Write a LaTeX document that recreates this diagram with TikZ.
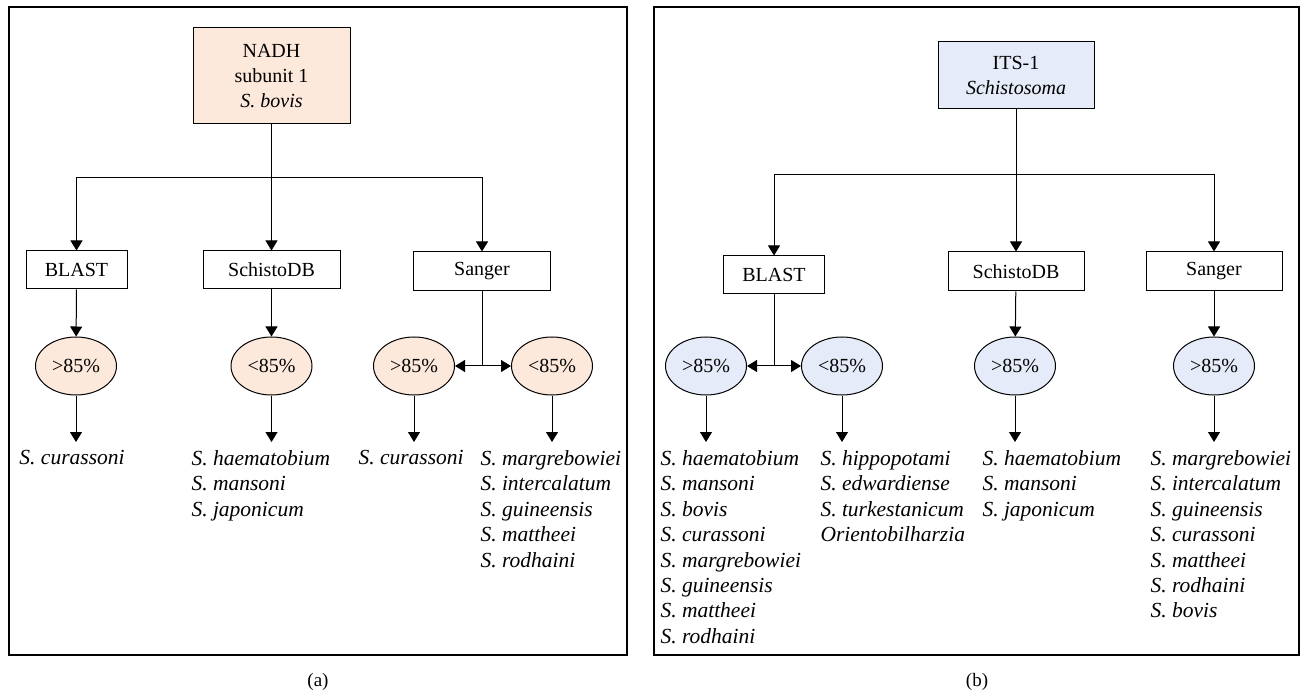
\documentclass[tikz,border=0pt]{standalone}
\usepackage{fontspec}
\setmainfont{Liberation Serif}
\usetikzlibrary{shapes.geometric,arrows.meta}

\definecolor{peach}{RGB}{252,233,219}
\definecolor{paleblue}{RGB}{229,235,248}

\tikzset{
  box/.style={draw, rectangle, inner sep=0pt, align=center, font=\fontsize{20}{25}\selectfont},
  oval/.style={draw, ellipse, minimum width=81pt, minimum height=58pt, inner sep=0pt, font=\fontsize{20}{25}\selectfont},
  taxa/.style={anchor=north west, align=left, inner xsep=0pt, inner ysep=8pt, font=\fontsize{21.5}{25.4}\selectfont\itshape},
  arr/.style={-{Triangle[length=10pt,width=12pt]}},
  twoarr/.style={{Triangle[length=10pt,width=12pt]}-{Triangle[length=10pt,width=12pt]}}
}

\begin{document}
\begin{tikzpicture}[x=1pt, y=-1pt, line width=1pt]

  % Fix the canvas
  \useasboundingbox (0,0) rectangle (1306,692);

  % Panel frames
  \draw[line width=1.2pt] (9,7) rectangle (627,655);
  \draw[line width=1.2pt] (654,7) rectangle (1299,655);

  % Captions
  \node[font=\fontsize{19}{22}\selectfont] (capa) at (318,682) {(a)};
  \node[font=\fontsize{19}{22}\selectfont] (capb) at (977,682) {(b)};

  % ---------- Panel (a) ----------
  % Root box
  \node[box, fill=peach, minimum width=157pt, minimum height=96pt] (nadh) at (271.5,76)
    {NADH\\subunit 1\\\textit{S. bovis}};

  % Height of the branching bar
  \coordinate (abar) at (271.5,178);

  % Methods
  \node[box, minimum width=101pt, minimum height=38pt] (ablast) at (76.5,270) {BLAST};
  \node[box, minimum width=137pt, minimum height=38pt] (asdb) at (271.5,270) {SchistoDB};
  \node[box, minimum width=137pt, minimum height=39pt] (asanger) at (482,271.5) {Sanger};

  % Identity ovals
  \node[oval, fill=peach] (a1) at (76,366) {>85\%};
  \node[oval, fill=peach] (a2) at (271.5,366) {<85\%};
  \node[oval, fill=peach] (a3) at (414,366) {>85\%};
  \node[oval, fill=peach] (a4) at (552,366) {<85\%};

  % Species lists
  \node[taxa] (la1) at (19,442) {S. curassoni};
  \node[taxa] (la2) at (191,442) {S. haematobium\\S. mansoni\\S. japonicum};
  \node[taxa] (la3) at (358,442) {S. curassoni};
  \node[taxa] (la4) at (480,442) {S. margrebowiei\\S. intercalatum\\S. guineensis\\S. mattheei\\S. rodhaini};

  % Connectors
  \draw[arr] (nadh.south) -- (nadh.south |- abar) -| (ablast.north);
  \draw[arr] (nadh.south) -- (asdb.north);
  \draw[arr] (nadh.south |- abar) -| (asanger.north);
  \draw[arr] (ablast) -- (a1);
  \draw[arr] (asdb) -- (a2);
  \draw (asanger.south) -- (asanger.south |- a3);
  \draw[twoarr] (a3) -- (a4);
  \draw[arr] (a1) -- (a1 |- la1.north);
  \draw[arr] (a2) -- (a2 |- la2.north);
  \draw[arr] (a3) -- (a3 |- la3.north);
  \draw[arr] (a4) -- (a4 |- la4.north);

  % ---------- Panel (b) ----------
  % Root box
  \node[box, fill=paleblue, minimum width=156pt, minimum height=67pt] (its) at (1016,75.5)
    {ITS-1\\\textit{Schistosoma}};

  % Height of the branching bar
  \coordinate (bbar) at (1016,175);

  % Methods
  \node[box, minimum width=101pt, minimum height=38pt] (bblast) at (774,275) {BLAST};
  \node[box, minimum width=136pt, minimum height=39pt] (bsdb) at (1016,271.5) {SchistoDB};
  \node[box, minimum width=136pt, minimum height=39pt] (bsanger) at (1214,271.5) {Sanger};

  % Identity ovals
  \node[oval, fill=paleblue] (b1) at (706,366) {>85\%};
  \node[oval, fill=paleblue] (b2) at (842,366) {<85\%};
  \node[oval, fill=paleblue] (b3) at (1015,366) {>85\%};
  \node[oval, fill=paleblue] (b4) at (1214,366) {>85\%};

  % Species lists
  \node[taxa] (lb1) at (660,442) {S. haematobium\\S. mansoni\\S. bovis\\S. curassoni\\S. margrebowiei\\S. guineensis\\S. mattheei\\S. rodhaini};
  \node[taxa] (lb2) at (820,442) {S. hippopotami\\S. edwardiense\\S. turkestanicum\\Orientobilharzia};
  \node[taxa] (lb3) at (982,442) {S. haematobium\\S. mansoni\\S. japonicum};
  \node[taxa] (lb4) at (1150,442) {S. margrebowiei\\S. intercalatum\\S. guineensis\\S. curassoni\\S. mattheei\\S. rodhaini\\S. bovis};

  % Connectors
  \draw[arr] (its.south) -- (its.south |- bbar) -| (bblast.north);
  \draw[arr] (its.south) -- (bsdb.north);
  \draw[arr] (its.south |- bbar) -| (bsanger.north);
  \draw (bblast.south) -- (bblast.south |- b1);
  \draw[twoarr] (b1) -- (b2);
  \draw[arr] (bsdb) -- (b3);
  \draw[arr] (bsanger) -- (b4);
  \draw[arr] (b1) -- (b1 |- lb1.north);
  \draw[arr] (b2) -- (b2 |- lb2.north);
  \draw[arr] (b3) -- (b3 |- lb3.north);
  \draw[arr] (b4) -- (b4 |- lb4.north);

\end{tikzpicture}
\end{document}
